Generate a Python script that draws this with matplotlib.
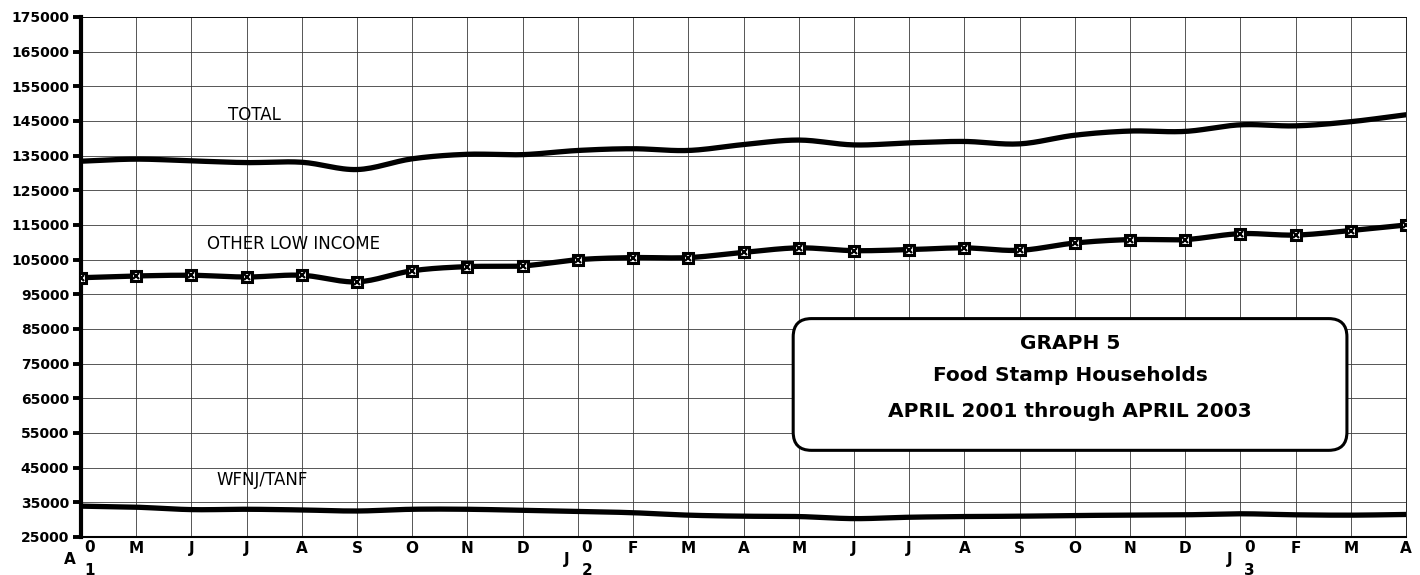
import numpy as np
import matplotlib
matplotlib.use("Agg")
import matplotlib.pyplot as plt
from matplotlib.patches import FancyBboxPatch

# month letters on the x axis, April 2001 .. April 2003
months = ["A", "M", "J", "J", "A", "S", "O", "N", "D",
          "J", "F", "M", "A", "M", "J", "J", "A", "S", "O", "N", "D",
          "J", "F", "M", "A"]
# months where a year starts (letter drawn shifted, "0" + year digit beside it)
year_pos = [0, 9, 21]
year_digit = ["1", "2", "3"]

total = [133400, 134000, 133500, 133000, 133100, 131000, 134100, 135400,
         135300, 136500, 137000, 136500, 138200, 139500, 138100, 138700,
         139100, 138400, 140900, 142100, 142000, 143900, 143600, 144800,
         146800]
other = [99800, 100300, 100500, 100000, 100500, 98600, 101800, 103000,
         103200, 105000, 105600, 105600, 107100, 108400, 107600, 107900,
         108400, 107700, 109800, 110800, 110800, 112500, 112100, 113400,
         115000]
wfnj = [33900, 33600, 32900, 33000, 32800, 32500, 33000, 33000, 32700,
        32400, 32000, 31300, 31000, 30900, 30300, 30700, 30900, 31000,
        31200, 31300, 31400, 31700, 31400, 31300, 31500]

yticks = list(range(25000, 175001, 10000))

box_lines = ["GRAPH 5", "Food Stamp Households", "APRIL 2001 through APRIL 2003"]


def smooth(y, n=16):
    # catmull-rom curve through the points (excel "smoothed line" look)
    y = np.asarray(y, float)
    p = np.concatenate([[2 * y[0] - y[1]], y, [2 * y[-1] - y[-2]]])
    t = np.linspace(0, 1, n, endpoint=False)
    xs, ys = [], []
    for i in range(len(y) - 1):
        p0, p1, p2, p3 = p[i:i + 4]
        seg = 0.5 * (2 * p1 + (-p0 + p2) * t
                     + (2 * p0 - 5 * p1 + 4 * p2 - p3) * t ** 2
                     + (-p0 + 3 * p1 - 3 * p2 + p3) * t ** 3)
        xs.extend(i + t)
        ys.extend(seg)
    xs.append(len(y) - 1)
    ys.append(y[-1])
    return np.array(xs), np.array(ys)


W, H = 1420, 575
fig = plt.figure(figsize=(W / 100, H / 100), dpi=100)
ax = fig.add_axes([81 / W, 1 - 537 / H, (1406 - 81) / W, 520 / H])

x = np.arange(len(months))
ax.set_xlim(0, len(months) - 1)
ax.set_ylim(yticks[0], yticks[-1])

ax.set_yticks(yticks)
ax.set_yticklabels([str(v) for v in yticks], fontsize=10, fontweight="bold")
ax.tick_params(axis="y", direction="out", length=5.5, width=2.8, pad=3)

ax.set_xticks(x)
ax.set_xticklabels(["" if i in year_pos else m for i, m in enumerate(months)],
                   fontsize=11, fontweight="bold")
ax.tick_params(axis="x", length=0, pad=3)

ax.grid(True, color="#3a3a3a", linewidth=0.6)
ax.set_axisbelow(True)
ax.spines["left"].set_linewidth(3)
ax.spines["bottom"].set_linewidth(1.5)
ax.spines["top"].set_linewidth(0.6)
ax.spines["right"].set_linewidth(0.6)

# year labels: letter down-left, "0" and digit stacked to the right
for i, d in zip(year_pos, year_digit):
    kw = dict(xycoords=("data", "axes fraction"), textcoords="offset points",
              ha="center", va="center", fontsize=11, fontweight="bold")
    ax.annotate(months[i], (i, 0), xytext=(-8, -16.5), **kw)
    ax.annotate("0", (i, 0), xytext=(6.5, -7.5), **kw)
    ax.annotate(d, (i, 0), xytext=(6.5, -24), **kw)

lw = 3.8
sx, sy = smooth(total)
ax.plot(sx, sy, color="black", lw=lw, solid_capstyle="round", zorder=3)
sx, sy = smooth(wfnj)
ax.plot(sx, sy, color="black", lw=lw, solid_capstyle="round", zorder=3)
sx, sy = smooth(other)
ax.plot(sx, sy, color="black", lw=lw, solid_capstyle="round", zorder=3)
ax.plot(x, other, ls="none", marker="s", ms=6.5, mfc="white", mec="black",
        mew=2.2, zorder=4)
ax.plot(x, other, ls="none", marker="x", ms=4, mec="black", mew=1.6, zorder=5)

ax.text(3.15, 146700, "TOTAL", ha="center", va="center", fontsize=12)
ax.text(3.85, 109400, "OTHER LOW INCOME", ha="center", va="center", fontsize=12)
ax.text(3.28, 41400, "WFNJ/TANF", ha="center", va="center", fontsize=12)

# rounded title box
px_x = 1325 / 24
px_y = 520 / 150000
aspect = px_x / px_y
bx0, bx1, by0, by1 = 12.9, 22.93, 50000, 88000
box = FancyBboxPatch((bx0, by0), bx1 - bx0, by1 - by0,
                     boxstyle="round,pad=0,rounding_size=0.33",
                     mutation_aspect=aspect, facecolor="white",
                     edgecolor="black", linewidth=2.2, zorder=6)
ax.add_patch(box)
cx = (bx0 + bx1) / 2
for yy, s in zip([80700, 71500, 61200], box_lines):
    ax.text(cx, yy, s, ha="center", va="center", fontsize=14.5,
            fontweight="bold", zorder=7)

fig.savefig("out.png", dpi=100)
